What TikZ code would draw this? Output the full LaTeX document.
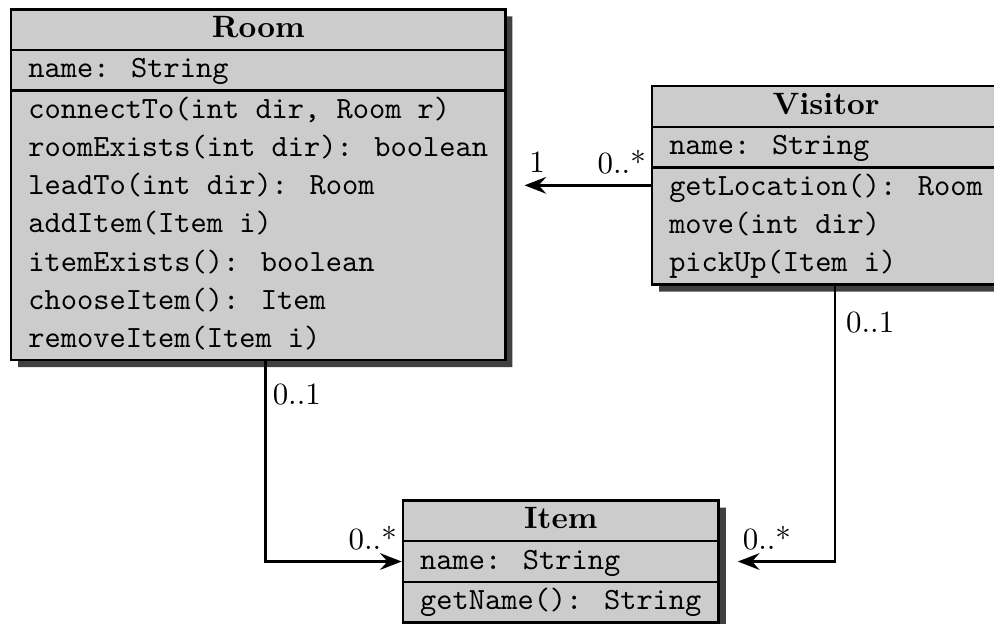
\documentclass[tikz,border=0pt]{standalone}
\usepackage{tikz}
\usetikzlibrary{positioning,shapes.multipart,shadows,arrows.meta}
\tikzset{umlclass/.style={draw, line width=0.8pt, fill=black!20, anchor=north west,
    rectangle split, rectangle split parts=3, rectangle split part align={center,left,left},
    align=left, inner xsep=5.6pt, inner ysep=0pt, font=\fontsize{10}{12.35}\selectfont\ttfamily,
    drop shadow={shadow xshift=2.3pt, shadow yshift=-2.3pt, fill=black!75, opacity=1}}}
\tikzset{assoc/.style={draw, line width=0.8pt, -{Stealth[length=7pt,width=5.4pt,inset=2.4pt]}}}
\tikzset{mult/.style={font=\rmfamily, inner sep=1.2pt}}
\newcommand{\classname}[1]{\strut\rmfamily\bfseries #1}

\begin{document}
\begin{tikzpicture}
    \useasboundingbox (0,0) rectangle (321.7pt,-201.9pt);
    % classes
    \node[umlclass] (room) at (3.2pt,-2.6pt) {\classname{Room}
        \nodepart{second}\strut name: String
        \nodepart{third}\strut connectTo(int dir, Room r)\\
        roomExists(int dir): boolean\\
        leadTo(int dir): Room\\
        addItem(Item i)\\
        itemExists(): boolean\\
        chooseItem(): Item\\
        removeItem(Item i)\strut};
    \node[umlclass] (visitor) at (210.6pt,-27.5pt) {\classname{Visitor}
        \nodepart{second}\strut name: String
        \nodepart{third}\strut getLocation(): Room\\
        move(int dir)\\
        pickUp(Item i)\strut};
    \node[umlclass] (item) at (130pt,-161.6pt) {\classname{Item}
        \nodepart{second}\strut name: String
        \nodepart{third}\strut getName(): String\strut};
    % associations
    \coordinate (roomend) at ([xshift=5.8pt]room.east |- visitor.west);
    \coordinate (itemend) at ([xshift=5.8pt]item.east);
    \draw[assoc] (visitor.west) -- (roomend)
        node[mult, pos=0, above left, yshift=2pt] {0..*}
        node[mult, pos=1, above right, yshift=2.5pt] {1};
    \draw[assoc] ([xshift=2.4pt]room.south) |- (item.west)
        node[mult, pos=0, below right=5.6pt and 0.7pt] {0..1}
        node[mult, pos=1, above left, yshift=2pt] {0..*};
    \draw[assoc] ([xshift=2.9pt]visitor.south) |- (itemend)
        node[mult, pos=0, below right=7pt and 2pt] {0..1}
        node[mult, pos=1, above right, yshift=2pt] {0..*};
\end{tikzpicture}
\end{document}
